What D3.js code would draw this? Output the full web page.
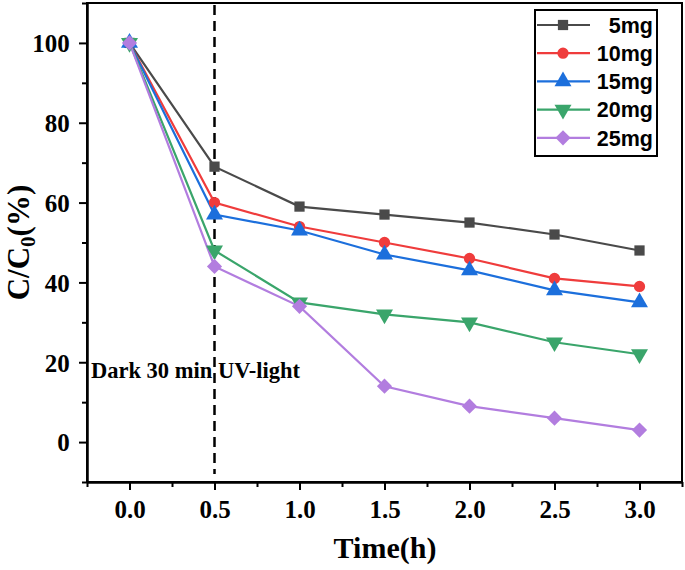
<!DOCTYPE html>
<html><head><meta charset="utf-8">
<script src="https://cdn.jsdelivr.net/npm/d3@7"></script>
<style>body{margin:0;background:#fff}svg{display:block}</style>
</head><body>
<script>
const times = [0, 0.5, 1.0, 1.5, 2.0, 2.5, 3.0];
const seriesNames = ["5mg", "10mg", "15mg", "20mg", "25mg"];
const s5mg  = [100, 69, 59, 57, 55, 52, 48];
const s10mg = [100, 60, 54, 50, 46, 41, 39];
const s15mg = [100, 57, 53, 47, 43, 38, 35];
const s20mg = [100, 48, 35, 32, 30, 25, 22];
const s25mg = [100, 44, 34, 14, 9, 6, 3];
const xTicks = [0, 0.5, 1.0, 1.5, 2.0, 2.5, 3.0];
const yTicks = [0, 20, 40, 60, 80, 100];
const colors = ["#4a4a4a", "#ef3c3c", "#1c6fdc", "#3aa56b", "#b27ddf"];
const symbolTypes = [d3.symbolSquare, d3.symbolCircle, d3.symbolTriangle, d3.symbolTriangle, d3.symbolSquare];
const symbolSizes = [105, 100, 125, 125, 115];
const symbolRot = [0, 0, 0, 180, 45];
const allSeries = [s5mg, s10mg, s15mg, s20mg, s25mg];

const W = 685, H = 570;
const L = 87, R = 682, T = 3, B = 482;
const svg = d3.select("body").append("svg").attr("width", W).attr("height", H);
const x = d3.scaleLinear().domain([-0.25, 3.25]).range([L, R]);
const y = d3.scaleLinear().domain([-10, 110]).range([B, T]);

const serif = "'Liberation Serif', 'Times New Roman', serif";
const sans = "'Liberation Sans', Arial, sans-serif";

// frame
svg.append("rect").attr("x", L).attr("y", T).attr("width", R - L).attr("height", B - T)
  .attr("fill", "none").attr("stroke", "#000").attr("stroke-width", 2);

// x axis
const xAxis = svg.append("g").attr("transform", `translate(0,${B})`)
  .call(d3.axisBottom(x).tickValues(xTicks).tickFormat(d3.format(".1f")).tickSize(8).tickSizeOuter(0));
const xMinor = svg.append("g").attr("transform", `translate(0,${B})`)
  .call(d3.axisBottom(x).tickValues(d3.range(-0.25, 3.26, 0.5)).tickFormat("").tickSize(5).tickSizeOuter(0));
// y axis
const yAxis = svg.append("g").attr("transform", `translate(${L},0)`)
  .call(d3.axisLeft(y).tickValues(yTicks).tickSize(8).tickSizeOuter(0));
const yMinor = svg.append("g").attr("transform", `translate(${L},0)`)
  .call(d3.axisLeft(y).tickValues(d3.range(-10, 111, 20)).tickFormat("").tickSize(5).tickSizeOuter(0));
[xAxis, xMinor, yAxis, yMinor].forEach(g => {
  g.select(".domain").attr("stroke-width", 2);
  g.selectAll(".tick line").attr("stroke-width", 2);
  g.selectAll("text").attr("font-family", serif).attr("font-weight", "bold").attr("font-size", 25).attr("fill", "#000");
});
xAxis.selectAll("text").attr("dy", "1.0em");
yAxis.selectAll("text").attr("dx", "-0.25em").attr("dy", "0.35em");

// dashed line
svg.append("line").attr("x1", x(0.5)).attr("x2", x(0.5)).attr("y1", T + 2).attr("y2", y(-8))
  .attr("stroke", "#000").attr("stroke-width", 2.5).attr("stroke-dasharray", "10,6");

svg.append("text").attr("x", 91).attr("y", 378).text("Dark 30 min")
  .attr("font-family", serif).attr("font-weight", "bold").attr("font-size", 22.5);
svg.append("text").attr("x", 218).attr("y", 378).text("UV-light")
  .attr("font-family", serif).attr("font-weight", "bold").attr("font-size", 22.5);

// series
const line = d3.line().x((d, i) => x(times[i])).y(d => y(d));
allSeries.forEach((s, k) => {
  svg.append("path").datum(s).attr("d", line).attr("fill", "none")
    .attr("stroke", colors[k]).attr("stroke-width", 2.2);
});
allSeries.forEach((s, k) => {
  svg.selectAll(null).data(s).enter().append("path")
    .attr("d", d3.symbol().type(symbolTypes[k]).size(symbolSizes[k]))
    .attr("transform", (d, i) => `translate(${x(times[i])},${y(d)}) rotate(${symbolRot[k]})`)
    .attr("fill", colors[k]);
});

// legend
const lg = svg.append("g");
lg.append("rect").attr("x", 535).attr("y", 10).attr("width", 122).attr("height", 146)
  .attr("fill", "#fff").attr("stroke", "#000").attr("stroke-width", 2);
seriesNames.forEach((n, k) => {
  const yy = 25 + k * 28.2;
  lg.append("line").attr("x1", 537).attr("x2", 590).attr("y1", yy).attr("y2", yy)
    .attr("stroke", colors[k]).attr("stroke-width", 2.2);
  lg.append("path").attr("d", d3.symbol().type(symbolTypes[k]).size(symbolSizes[k]))
    .attr("transform", `translate(563,${yy}) rotate(${symbolRot[k]})`).attr("fill", colors[k]);
  lg.append("text").attr("x", 653).attr("y", yy).attr("dy", "0.36em").attr("text-anchor", "end")
    .text(n).attr("font-family", sans).attr("font-weight", "bold").attr("font-size", 21.5);
});

// axis titles
svg.append("text").attr("x", 385).attr("y", 558).attr("text-anchor", "middle")
  .attr("font-family", serif).attr("font-weight", "bold").attr("font-size", 30).text("Time(h)");
const yl = svg.append("text").attr("transform", `translate(29,${(T + B) / 2}) rotate(-90)`)
  .attr("text-anchor", "middle").attr("font-family", serif).attr("font-weight", "bold").attr("font-size", 31);
yl.append("tspan").text("C/C");
yl.append("tspan").attr("font-size", 21).attr("dy", 6).text("0");
yl.append("tspan").attr("dy", -6).text("(%)");
</script>
</body></html>
